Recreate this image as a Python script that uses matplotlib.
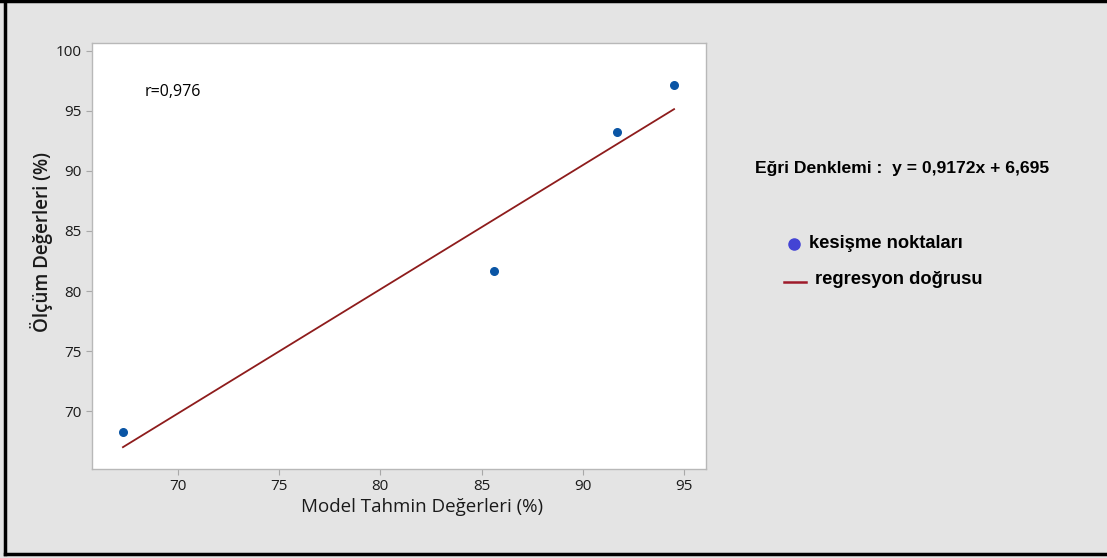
"""Scatter of model predictions vs measurements with regression line."""
import matplotlib.pyplot as plt
import numpy as np
from matplotlib.lines import Line2D

# values
model_pred = [67.3, 85.6, 91.7, 94.5]
measured = [68.3, 81.7, 93.2, 97.1]
x_ticks = [70, 75, 80, 85, 90, 95]
y_ticks = [70, 75, 80, 85, 90, 95, 100]
r_text = "r=0,976"
eq_text = "Eğri Denklemi :  y = 0,9172x + 6,695"
legend_labels = ["kesişme noktaları", "regresyon doğrusu"]

BG = "#e4e4e4"
W, H = 1107, 558


def fx(px):
    return px / W


def fy(py):
    return 1 - py / H


def main():
    fig = plt.figure(figsize=(11.07, 5.58), dpi=100, facecolor=BG)
    ax = fig.add_axes([0.0827, 0.1595, 0.5555, 0.7629])
    ax.set_facecolor("white")

    x = np.array(model_pred)
    y = np.array(measured)
    slope, icpt = np.polyfit(x, y, 1)
    xs = np.array([x.min(), x.max()])
    ax.plot(xs, slope * xs + icpt, color="#8e1c1c", lw=1.3, zorder=2)
    ax.scatter(x, y, s=30, color="#0a55a5", zorder=3)

    ax.set_xlim(65.75, 96.1)
    ax.set_ylim(65.2, 100.6)
    ax.set_xticks(x_ticks)
    ax.set_yticks(y_ticks)
    for lab in ax.get_xticklabels() + ax.get_yticklabels():
        lab.set_family("Open Sans")
        lab.set_fontsize(11)
        lab.set_color("#1a1a1a")
    ax.tick_params(direction="out", length=4, color="#a8a8a8", width=0.8, pad=3)
    for sp in ax.spines.values():
        sp.set_color("#b8b8b8")
        sp.set_linewidth(1.0)

    ax.set_xlabel("Model Tahmin Değerleri (%)", family="Open Sans", fontsize=13.5,
                  color="#1a1a1a")
    ax.xaxis.set_label_coords(0.537, -0.068)
    ax.set_ylabel("Ölçüm Değerleri (%)", family="Open Sans", fontsize=13.5,
                  fontweight="semibold", color="#1a1a1a")
    ax.yaxis.set_label_coords(-0.063, 0.533)
    ax.text(0.087, 0.885, r_text, transform=ax.transAxes, family="Open Sans",
            fontsize=11.5, va="center", ha="left")

    # right-hand annotation and legend
    bold = dict(family="Liberation Sans", fontweight="bold", va="center", ha="left")
    fig.text(fx(755), fy(168), eq_text, fontsize=12.6, **bold)
    fig.add_artist(Line2D([fx(794)], [fy(244)], marker="o", ms=8,
                          color="#4444d4", transform=fig.transFigure))
    fig.text(fx(809), fy(243), legend_labels[0], fontsize=13.2, **bold)
    fig.add_artist(Line2D([fx(784), fx(806)], [fy(282)] * 2, lw=1.8,
                          color="#9e1a2a", transform=fig.transFigure))
    fig.text(fx(815), fy(280), legend_labels[1], fontsize=13.2, **bold)

    # black frame of the screenshot (no right edge)
    frame = dict(color="black", lw=2.5, transform=fig.transFigure)
    fig.add_artist(Line2D([fx(0), fx(W)], [fy(1)] * 2, **frame))
    fig.add_artist(Line2D([fx(5)] * 2, [fy(0), fy(554)], **frame))
    fig.add_artist(Line2D([fx(5), fx(W)], [fy(554)] * 2, **frame))

    fig.savefig("out.png", dpi=100, facecolor=BG)


if __name__ == "__main__":
    main()
